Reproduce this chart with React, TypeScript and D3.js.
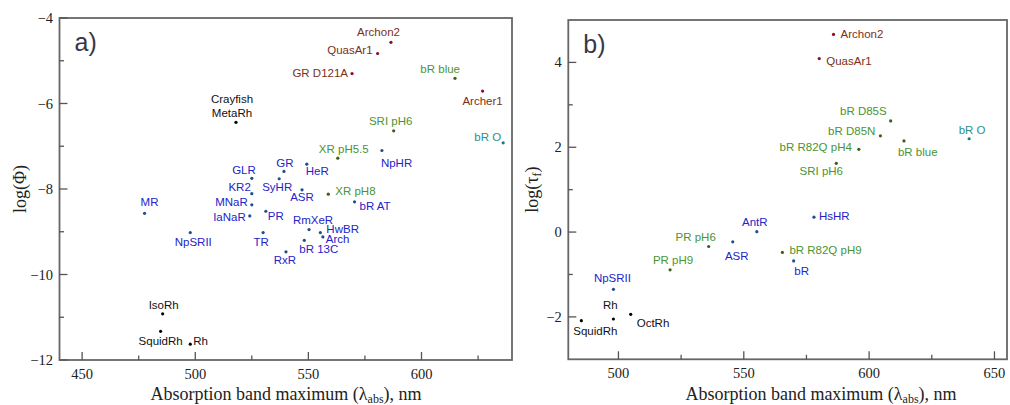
import React from 'react';
import { scaleLinear, format } from 'd3';

// ---- data: panel a) log(quantum yield) vs absorption maximum ----
const namesA = ['Crayfish\nMetaRh', 'GLR', 'KR2', 'MNaR', 'IaNaR', 'PR', 'TR', 'MR', 'NpSRII', 'GR', 'SyHR', 'HeR', 'ASR', 'XR pH8', 'RmXeR', 'HwBR', 'Arch', 'bR 13C', 'RxR', 'bR AT', 'NpHR', 'Archon2', 'QuasAr1', 'GR D121A', 'bR blue', 'Archer1', 'SRI pH6', 'bR O', 'XR pH5.5', 'IsoRh', 'SquidRh', 'Rh'];
const lambdaA = [518.0, 525.0, 525.0, 525.0, 524.1, 531.2, 530.0, 477.6, 497.8, 539.2, 537.1, 549.3, 547.2, 558.8, 550.3, 555.3, 556.4, 548.2, 540.1, 570.4, 582.5, 586.5, 580.6, 569.3, 614.8, 627.0, 587.7, 636.1, 563.0, 485.6, 484.7, 497.8];
const logPhiA = [-6.44, -7.75, -8.11, -8.37, -8.63, -8.52, -9.02, -8.57, -9.02, -7.59, -7.76, -7.42, -8.02, -8.12, -8.95, -9.02, -9.12, -9.2, -9.47, -8.3, -7.1, -4.57, -4.83, -5.3, -5.41, -5.71, -6.64, -6.92, -7.28, -10.92, -11.33, -11.63];
const groupA = ['animal', 'micro', 'micro', 'micro', 'micro', 'micro', 'micro', 'micro', 'micro', 'micro', 'micro', 'micro', 'micro', 'shift', 'micro', 'micro', 'micro', 'micro', 'micro', 'micro', 'micro', 'eng', 'eng', 'eng', 'shift', 'eng', 'shift', 'teal', 'shift', 'animal', 'animal', 'animal'];

// ---- data: panel b) log(fluorescence lifetime) vs absorption maximum ----
const namesB = ['Archon2', 'QuasAr1', 'bR D85S', 'bR D85N', 'bR blue', 'bR O', 'bR R82Q pH4', 'SRI pH6', 'HsHR', 'AntR', 'bR R82Q pH9', 'bR', 'PR pH6', 'ASR', 'PR pH9', 'NpSRII', 'Rh', 'SquidRh', 'OctRh'];
const lambdaB = [585.8, 580.1, 608.6, 604.5, 613.9, 639.9, 595.9, 586.9, 578.0, 555.2, 565.4, 569.9, 536.0, 545.6, 520.6, 498.0, 498.0, 485.2, 504.9];
const logTauB = [4.66, 4.09, 2.62, 2.27, 2.15, 2.2, 1.95, 1.62, 0.35, 0.01, -0.48, -0.68, -0.34, -0.23, -0.89, -1.35, -2.05, -2.09, -1.94];
const groupB = ['eng', 'eng', 'shift', 'shift', 'shift', 'teal', 'shift', 'shift', 'micro', 'micro', 'shift', 'micro', 'shift', 'micro', 'shift', 'micro', 'animal', 'animal', 'animal'];

// ---- label placement (anchor, dx, dy from the dot) ----
const placeA: [string, number, number][] = [
  ['middle', -4, -19], ['end', 4, -4], ['end', -1, -3], ['end', -4, 1], ['end', -4, 5], ['start', 2, 9],
  ['middle', -2, 13], ['middle', 5, -7], ['middle', 3, 13], ['middle', 1, -4], ['middle', -2, 12], ['start', -1, 11],
  ['middle', 0, 11], ['start', 7, 1], ['middle', 4, -6], ['start', 6, 0], ['start', 3, 6], ['start', -5, 13],
  ['middle', -1, 12], ['start', 5, 8], ['start', -1, 16], ['end', 9, -6], ['end', -5, 1], ['end', -4, 3],
  ['end', 5, -5], ['middle', 0, 14], ['middle', -3, -6], ['end', -2, -2], ['middle', 6, -5], ['middle', 1, -5],
  ['middle', 0, 14], ['start', 3, 1],
];
const placeB: [string, number, number][] = [
  ['start', 7, 4], ['start', 7, 6], ['end', -4, -6], ['end', -5, -1], ['start', -6, 15], ['middle', 3, -5],
  ['end', -7, 2], ['middle', -15, 12], ['start', 5, 3], ['middle', -2, -6], ['start', 7, 2], ['middle', 8, 14],
  ['middle', -13, -5], ['middle', 4, 18], ['middle', 3, -6], ['middle', -1, -7], ['middle', -3, -10],
  ['middle', 14, 14], ['start', 6, 13],
];

const textColor: Record<string, string> = {
  animal: '#111111', micro: '#2323c8', shift: '#4a9432', eng: '#7a3018', teal: '#2a8f86',
};
const dotColor: Record<string, string> = {
  animal: '#000000', micro: '#1d4f8a', shift: '#3c5e1c', eng: '#8a0e2c', teal: '#1a7d78',
};

const serif = '"Liberation Serif", "DejaVu Serif", serif';
const sans = '"Liberation Sans", Arial, sans-serif';
const fmt = format('d');

type PanelProps = {
  xDomain: [number, number]; xRange: [number, number];
  yDomain: [number, number]; yRange: [number, number];
  xMajor: number[]; xMinor: number[]; yMajor: number[]; yMinor: number[];
  names: string[]; xs: number[]; ys: number[]; groups: string[]; place: [string, number, number][];
  tag: string; yTitle: React.ReactNode; yTitleX: number; xTitleX: number;
};

function Panel(p: PanelProps) {
  const x = scaleLinear().domain(p.xDomain).range(p.xRange);
  const y = scaleLinear().domain(p.yDomain).range(p.yRange);
  const [x0, x1] = p.xRange;
  const [y0, y1] = [p.yRange[1], p.yRange[0]];
  const axisCol = '#555';
  return (
    <g>
      <rect x={x0} y={y0} width={x1 - x0} height={y1 - y0} fill="none" stroke="#666" strokeWidth={1.8} />
      {p.xMajor.map(v => (
        <g key={'xM' + v}>
          <line x1={x(v)} x2={x(v)} y1={y1} y2={y1 - 8} stroke={axisCol} strokeWidth={1.3} />
          <text x={x(v)} y={y1 + 19} textAnchor="middle" fontFamily={serif} fontSize={14.5} fill="#222">{fmt(v)}</text>
        </g>
      ))}
      {p.xMinor.map(v => (
        <line key={'xm' + v} x1={x(v)} x2={x(v)} y1={y1} y2={y1 - 4.5} stroke={axisCol} strokeWidth={1.3} />
      ))}
      {p.yMajor.map(v => (
        <g key={'yM' + v}>
          <line x1={x0} x2={x0 + 8} y1={y(v)} y2={y(v)} stroke={axisCol} strokeWidth={1.3} />
          <text x={x0 - 6.5} y={y(v) + 5} textAnchor="end" fontFamily={serif} fontSize={14.5} fill="#222">{fmt(v)}</text>
        </g>
      ))}
      {p.yMinor.map(v => (
        <line key={'ym' + v} x1={x0} x2={x0 + 4.5} y1={y(v)} y2={y(v)} stroke={axisCol} strokeWidth={1.3} />
      ))}
      <text x={x0 + 15} y={y0 + 33} fontFamily={sans} fontSize={25} fill="#383844">{p.tag}</text>
      {p.names.map((n, i) => {
        const cx = x(p.xs[i]);
        const cy = y(p.ys[i]);
        const [anchor, dx, dy] = p.place[i];
        const lines = n.split('\n');
        return (
          <g key={n + i}>
            <circle cx={cx} cy={cy} r={1.6} fill={dotColor[p.groups[i]]} />
            <text x={cx + dx} y={cy + dy} textAnchor={anchor as any} fontFamily={sans} fontSize={11.5} fill={textColor[p.groups[i]]}>
              {lines.map((l, j) => (
                <tspan key={j} x={cx + dx} dy={j === 0 ? 0 : 13.4}>{l}</tspan>
              ))}
            </text>
          </g>
        );
      })}
      <text x={p.xTitleX} y={400} textAnchor="middle" fontFamily={serif} fontSize={18} fill="#222">
        Absorption band maximum (λ<tspan fontSize={12} dy={3}>abs</tspan><tspan dy={-3}>), nm</tspan>
      </text>
      <text transform={`translate(${p.yTitleX},${(y0 + y1) / 2}) rotate(-90)`} textAnchor="middle" fontFamily={serif} fontSize={18} fill="#222">
        {p.yTitle}
      </text>
    </g>
  );
}

export default function App() {
  return (
    <svg width={1010} height={405} style={{ position: 'absolute', left: 0, top: 0, background: '#fff' }}>
      <Panel
        xDomain={[440, 640]} xRange={[59.5, 512]}
        yDomain={[-12, -4]} yRange={[360, 18]}
        xMajor={[450, 500, 550, 600]} xMinor={[475, 525, 575, 625]}
        yMajor={[-12, -10, -8, -6, -4]} yMinor={[-11, -9, -7, -5]}
        names={namesA} xs={lambdaA} ys={logPhiA} groups={groupA} place={placeA}
        tag="a)" yTitle={<>log(Φ)</>} yTitleX={26} xTitleX={286}
      />
      <Panel
        xDomain={[480, 655]} xRange={[568.3, 1007]}
        yDomain={[-3, 5]} yRange={[359.3, 20]}
        xMajor={[500, 550, 600, 650]} xMinor={[525, 575, 625]}
        yMajor={[-2, 0, 2, 4]} yMinor={[-1, 1, 3]}
        names={namesB} xs={lambdaB} ys={logTauB} groups={groupB} place={placeB}
        tag="b)" yTitle={<>log(τ<tspan fontSize={12} dy={3}>f</tspan><tspan dy={-3}>)</tspan></>} yTitleX={538} xTitleX={821}
      />
    </svg>
  );
}
